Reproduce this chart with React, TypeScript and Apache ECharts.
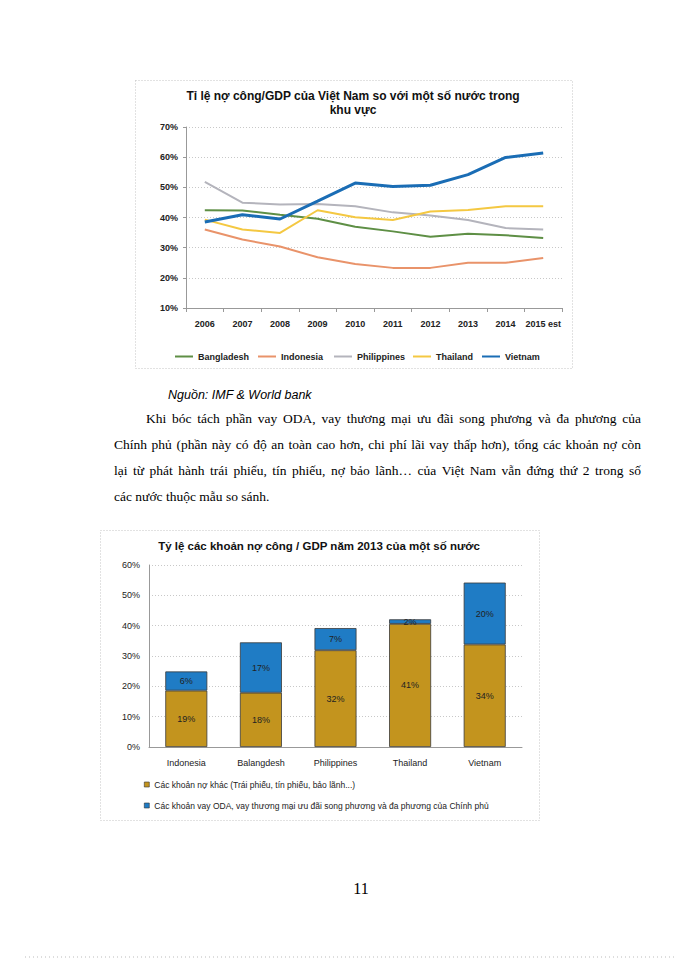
import React, { useEffect, useRef } from "react";
import * as echarts from "echarts";

// ---------- Chart 1 data ----------
const years = ["2006", "2007", "2008", "2009", "2010", "2011", "2012", "2013", "2014", "2015 est"];
const bangladesh = [42.4, 42.3, 40.9, 39.6, 36.9, 35.4, 33.6, 34.6, 34.1, 33.2];
const indonesia = [36.0, 32.7, 30.4, 26.8, 24.6, 23.3, 23.3, 25.0, 25.0, 26.6];
const philippines = [51.8, 44.9, 44.3, 44.5, 43.7, 41.7, 40.7, 39.2, 36.5, 36.0];
const thailand = [39.3, 36.0, 34.9, 42.4, 40.1, 39.2, 42.0, 42.5, 43.7, 43.7];
const vietnam = [38.5, 40.9, 39.5, 45.4, 51.4, 50.3, 50.7, 54.2, 59.9, 61.4];

// ---------- Chart 2 data ----------
const countries = ["Indonesia", "Balangdesh", "Philippines", "Thailand", "Vietnam"];
const otherDebt = [18.6, 17.9, 31.9, 40.6, 33.8];
const odaDebt = [6.3, 16.6, 7.3, 1.5, 20.4];

// ---------- Texts ----------
const title1a = "Tỉ lệ nợ công/GDP của Việt Nam so với một số nước trong";
const title1b = "khu vực";
const title2 = "Tỷ lệ các khoản nợ công / GDP năm 2013 của một số nước";
const sourceText = "Nguồn: IMF & World bank";
const paragraph = [
  "Khi bóc tách phần vay ODA, vay thương mại ưu đãi song phương và đa phương của",
  "Chính phủ (phần này có độ an toàn cao hơn, chi phí lãi vay thấp hơn), tổng các khoản nợ còn",
  "lại từ phát hành trái phiếu, tín phiếu, nợ bảo lãnh…  của Việt Nam vẫn đứng thứ 2 trong số",
  "các nước thuộc mẫu so sánh.",
];
const legendOther = "Các khoản nợ khác (Trái phiếu, tín phiếu, bảo lãnh...)";
const legendOda = "Các khoản vay ODA, vay thương mại ưu đãi song phương và đa phương của Chính phủ";

const SANS = '"Liberation Sans", Arial, sans-serif';
const SERIF = '"Liberation Serif", "Times New Roman", serif';

function paragraphElements() {
  const size = 13.5;
  const canvas = document.createElement("canvas");
  const ctx = canvas.getContext("2d")!;
  ctx.font = `${size}px ${SERIF}`;
  const lines = [
    { left: 146, y: 418, justify: true },
    { left: 114, y: 444, justify: true },
    { left: 114, y: 470, justify: true },
    { left: 114, y: 496, justify: false },
  ];
  const right = 641;
  const els: any[] = [];
  paragraph.forEach((txt, i) => {
    const ln = lines[i];
    if (!ln.justify) {
      els.push({
        type: "text", x: ln.left, y: ln.y,
        style: { text: txt, font: `${size}px ${SERIF}`, fill: "#000", textAlign: "left", textVerticalAlign: "middle" },
      });
      return;
    }
    const words = txt.split(/\s+/);
    const widths = words.map((w) => ctx.measureText(w).width);
    const total = widths.reduce((a, b) => a + b, 0);
    const gap = (right - ln.left - total) / (words.length - 1);
    let x = ln.left;
    words.forEach((w, k) => {
      els.push({
        type: "text", x, y: ln.y,
        style: { text: w, font: `${size}px ${SERIF}`, fill: "#000", textAlign: "left", textVerticalAlign: "middle" },
      });
      x += widths[k] + gap;
    });
  });
  return els;
}

export default function App() {
  const ref = useRef<HTMLDivElement>(null);
  useEffect(() => {
    const chart = echarts.init(ref.current!, null, { renderer: "svg" });

    const lineSeries = (name: string, data: number[], color: string, width: number) => ({
      type: "line", name, data, xAxisIndex: 0, yAxisIndex: 0,
      symbol: "none", lineStyle: { color, width }, itemStyle: { color }, z: width > 2 ? 5 : 3,
    });

    const leg1 = (name: string, left: number) => ({
      data: [name], left, top: 352, padding: 0, itemWidth: 18, itemHeight: 2, icon: "rect", selectedMode: false,
      textStyle: { fontFamily: SANS, fontSize: 9, fontWeight: "bold", color: "#222" },
    });
    const leg2 = (name: string, top: number) => ({
      data: [name], left: 144, top, padding: 0, itemWidth: 5, itemHeight: 5, icon: "rect", selectedMode: false,
      itemStyle: { borderWidth: 0.6, borderColor: "#333" },
      textStyle: { fontFamily: SANS, fontSize: 8.5, color: "#222" },
    });

    const option: any = {
      animation: false,
      backgroundColor: "#fff",
      grid: [
        { left: 186, right: 138, top: 127, bottom: 652 },
        { left: 149, right: 178, top: 565, bottom: 213 },
      ],
      xAxis: [
        {
          type: "category", gridIndex: 0, data: years, boundaryGap: true,
          axisLine: { lineStyle: { color: "#999" } },
          axisTick: { show: true, length: 4, lineStyle: { color: "#999" } },
          axisLabel: { fontFamily: SANS, fontSize: 9, fontWeight: "bold", color: "#222", margin: 11, interval: 0 },
        },
        {
          type: "category", gridIndex: 1, data: countries, boundaryGap: true,
          axisLine: { lineStyle: { color: "#999" } },
          axisTick: { show: false },
          axisLabel: { fontFamily: SANS, fontSize: 9, color: "#222", margin: 11, interval: 0 },
        },
      ],
      yAxis: [
        {
          type: "value", gridIndex: 0, min: 10, max: 70, interval: 10,
          axisLine: { show: true, lineStyle: { color: "#999" } },
          axisTick: { show: true, length: 3, lineStyle: { color: "#999" } },
          splitLine: { lineStyle: { color: "#c8c8c8", type: [1, 2] } },
          axisLabel: { formatter: "{value}%", fontFamily: SANS, fontSize: 9, fontWeight: "bold", color: "#222", margin: 8 },
        },
        {
          type: "value", gridIndex: 1, min: 0, max: 60, interval: 10,
          axisLine: { show: true, lineStyle: { color: "#999" } },
          axisTick: { show: false },
          splitLine: { lineStyle: { color: "#c8c8c8", type: [1, 2] } },
          axisLabel: { formatter: "{value}%", fontFamily: SANS, fontSize: 9, color: "#222", margin: 9 },
        },
      ],
      legend: [
        leg1("Bangladesh", 175),
        leg1("Indonesia", 258),
        leg1("Philippines", 334),
        leg1("Thailand", 413),
        leg1("Vietnam", 482),
        leg2(legendOther, 780),
        leg2(legendOda, 801),
      ],
      series: [
        lineSeries("Bangladesh", bangladesh, "#5e8f45", 2),
        lineSeries("Indonesia", indonesia, "#e9936a", 2),
        lineSeries("Philippines", philippines, "#b4b4bc", 2),
        lineSeries("Thailand", thailand, "#f4c842", 2),
        lineSeries("Vietnam", vietnam, "#1a6db5", 3),
        {
          type: "bar", name: legendOther, data: otherDebt, stack: "debt", xAxisIndex: 1, yAxisIndex: 1,
          barWidth: 42,
          itemStyle: { color: "#c3941e", borderColor: "#3a3a3a", borderWidth: 0.8 },
          label: {
            show: true, position: "inside", fontFamily: SANS, fontSize: 9, color: "#222",
            formatter: (p: any) => Math.round(p.value) + "%",
          },
        },
        {
          type: "bar", name: legendOda, data: odaDebt, stack: "debt", xAxisIndex: 1, yAxisIndex: 1,
          barWidth: 42,
          itemStyle: { color: "#1f7cc5", borderColor: "#3a3a3a", borderWidth: 0.8 },
          label: {
            show: true, position: "inside", fontFamily: SANS, fontSize: 9, color: "#222",
            formatter: (p: any) => Math.round(p.value) + "%",
          },
        },
      ],
      graphic: [
        {
          type: "rect", shape: { x: 135.5, y: 80.5, width: 437, height: 288 },
          style: { fill: "none", stroke: "#c4c4c4", lineWidth: 1, lineDash: [1, 2] }, silent: true,
        },
        {
          type: "rect", shape: { x: 100.5, y: 530.5, width: 439, height: 290 },
          style: { fill: "none", stroke: "#c4c4c4", lineWidth: 1, lineDash: [1, 2] }, silent: true,
        },
        {
          type: "line", shape: { x1: 25, y1: 957, x2: 674, y2: 957 },
          style: { stroke: "#bbb", lineWidth: 1, lineDash: [1, 3] }, silent: true,
        },
        {
          type: "text", x: 353, y: 96,
          style: { text: title1a, font: `bold 12px ${SANS}`, fill: "#111", textAlign: "center", textVerticalAlign: "middle" },
        },
        {
          type: "text", x: 353, y: 110,
          style: { text: title1b, font: `bold 12px ${SANS}`, fill: "#111", textAlign: "center", textVerticalAlign: "middle" },
        },
        {
          type: "text", x: 319, y: 546,
          style: { text: title2, font: `bold 11.5px ${SANS}`, fill: "#111", textAlign: "center", textVerticalAlign: "middle" },
        },
        {
          type: "text", x: 168, y: 395,
          style: { text: sourceText, font: `italic 12.5px ${SANS}`, fill: "#000", textAlign: "left", textVerticalAlign: "middle" },
        },
        ...paragraphElements(),
        {
          type: "text", x: 361, y: 888,
          style: { text: "11", font: `16px ${SERIF}`, fill: "#000", textAlign: "center", textVerticalAlign: "middle" },
        },
      ],
    };

    chart.setOption(option);
    return () => chart.dispose();
  }, []);

  return <div ref={ref} style={{ position: "absolute", left: 0, top: 0, width: 700, height: 960 }} />;
}
